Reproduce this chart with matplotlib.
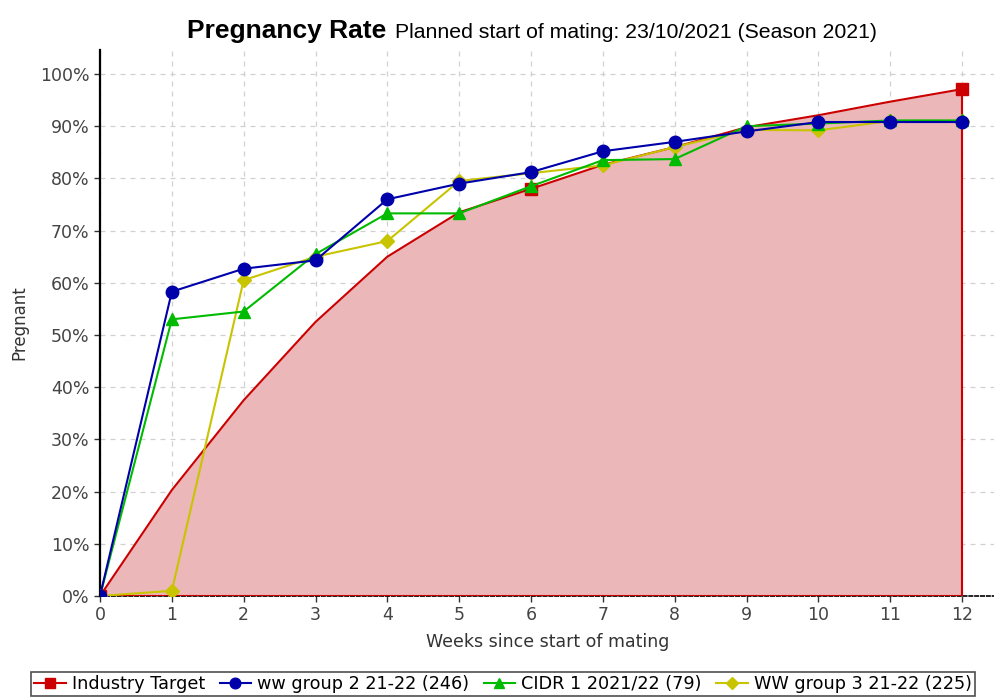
import matplotlib
matplotlib.use("Agg")
import matplotlib.pyplot as plt
from matplotlib.ticker import FuncFormatter

weeks = [0, 1, 2, 3, 4, 5, 6, 7, 8, 9, 10, 11, 12]
industry_target = [0, 20.3, 37.5, 52.5, 65, 73.5, 78, 82.6, 86, 89.8, 92.1, 94.7, 97.1]
target_marker_weeks = [0, 6, 12]
ww_group2 = [0, 58.3, 62.7, 64.3, 76, 79, 81.2, 85.2, 87, 89, 90.8, 90.8, 90.8]
cidr1 = [0, 53, 54.5, 65.5, 73.3, 73.3, 78.5, 83.5, 83.7, 90, 90.5, 91.1, 91.1]
ww_group3 = [0, 1, 60.5, 65, 68, 79.5, 81, 82.5, 86, 89.3, 89.2, 91, 91]

labels = ["Industry Target", "ww group 2 21-22 (246)", "CIDR 1 2021/22 (79)", "WW group 3 21-22 (225)"]

plt.rcParams['font.family'] = ['DejaVu Sans']

fig = plt.figure(figsize=(9.95, 6.97), dpi=100)
ax = fig.add_axes([100/995, 1-596/697, 1-100/995, (596-50)/697])

red = "#cc0000"
blue = "#0000aa"
green = "#00bb00"
yellow = "#c8c400"

ax.fill_between(weeks, 0, industry_target, color="#ebb7b8", linewidth=0, zorder=1)
mk_idx = [weeks.index(w) for w in target_marker_weeks]
ax.plot(weeks, industry_target, color=red, lw=1.5, marker='s', markersize=8,
        markevery=mk_idx, label=labels[0], zorder=3)
ax.vlines(weeks[-1], 0, industry_target[-1], color=red, lw=1.5, zorder=3)
ax.hlines(0, weeks[0], weeks[-1], color=red, lw=1.5, zorder=3)

ax.plot(weeks, ww_group3, color=yellow, lw=1.5, marker='D', markersize=7, label=labels[3], zorder=4)
ax.plot(weeks, cidr1, color=green, lw=1.5, marker='^', markersize=9, label=labels[2], zorder=5)
ax.plot(weeks, ww_group2, color=blue, lw=1.5, marker='o', markersize=9, label=labels[1], zorder=6)

ax.set_xlim(0, (995-100)/((962-100)/12))
ax.set_ylim(0, 100 + (74-50)/5.22)
ax.set_xticks(weeks)
ax.yaxis.set_major_formatter(FuncFormatter(lambda v, p: f"{int(round(v))}%"))
ax.set_yticks(range(0, 101, 10))

ax.grid(True, color="#d0d0d0", linestyle=(0, (4, 4)), linewidth=0.9, zorder=0)
ax.set_axisbelow(True)

for s in ['top', 'right']:
    ax.spines[s].set_visible(False)
ax.spines['left'].set_linestyle((0, (1.5, 1)))
ax.spines['left'].set_linewidth(1.6)
ax.spines['bottom'].set_linestyle((0, (2, 1.5)))
ax.spines['bottom'].set_linewidth(1.2)
ax.tick_params(axis='both', colors="#333333", labelsize=12.5, length=4, width=1)
ax.tick_params(axis='both', labelcolor="#444444")
ax.tick_params(axis='x', pad=3)

ax.set_xlabel("Weeks since start of mating", fontsize=12.5, color="#333333", labelpad=7)
ax.set_ylabel("Pregnant", fontsize=12, color="#333333", labelpad=8)

t1 = fig.text(187/995, 1-31/697, "Pregnancy Rate", fontsize=19, weight='bold',
              ha='left', va='center', family='Liberation Sans')
ax.annotate("Planned start of mating: 23/10/2021 (Season 2021)", xy=(1, 0.5), xycoords=t1,
            xytext=(6, -1), textcoords='offset points', ha='left', va='center',
            fontsize=15.3, family='Liberation Sans')

h, l = ax.get_legend_handles_labels()
order = [l.index(x) for x in labels]
leg = fig.legend([h[i] for i in order], [l[i] for i in order], loc='lower center',
                 bbox_to_anchor=(503/995, 0.8/697), ncol=4, frameon=True, fancybox=False,
                 edgecolor='#222222', fontsize=12.7, handlelength=1.8, handletextpad=0.35,
                 columnspacing=0.8, borderpad=0.18, borderaxespad=0, markerscale=0.85)
leg.get_frame().set_linewidth(1.2)

fig.savefig("out.png", dpi=100)
